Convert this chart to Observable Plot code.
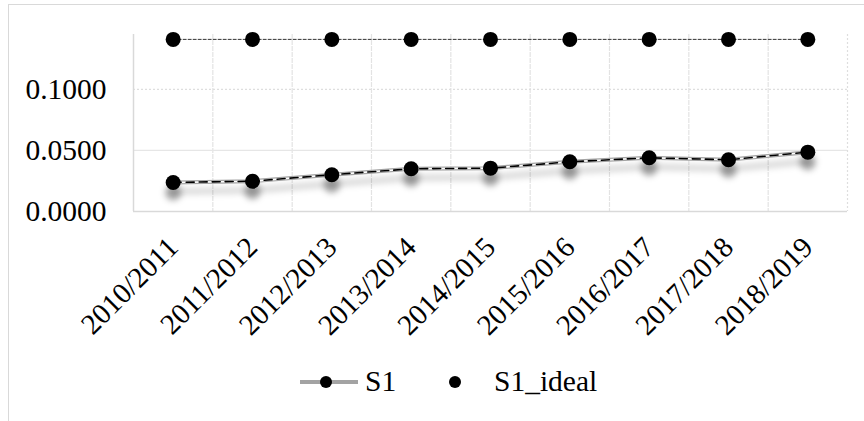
<!DOCTYPE html>
<html><head><meta charset="utf-8">
<script src="https://cdn.jsdelivr.net/npm/d3@7"></script>
<script src="https://cdn.jsdelivr.net/npm/@observablehq/plot@0.6"></script>
<style>
body{margin:0;background:#fff;}
#wrap{position:relative;width:864px;height:421px;overflow:hidden;font-family:"Liberation Serif",serif;color:#000;}
#frame{position:absolute;left:8px;top:4px;width:900px;height:500px;border-top:1.5px solid #d9d9d9;border-left:1.5px solid #d9d9d9;}
#chart{position:absolute;left:0;top:0;}
#legend{position:absolute;left:0;top:362px;width:864px;height:40px;}
.li{position:absolute;top:0;height:40px;display:flex;align-items:center;font-family:"Liberation Serif",serif;font-size:29.5px;line-height:1;}
</style></head>
<body>
<div id="wrap"><div id="frame"></div><div id="chart"></div><div id="legend"></div></div>
<script>
const years = ["2010/2011","2011/2012","2012/2013","2013/2014","2014/2015","2015/2016","2016/2017","2017/2018","2018/2019"];
const s1 = [0.0238,0.0248,0.0301,0.0350,0.0355,0.0407,0.0440,0.0424,0.0486];
const s1Ideal = [0.1410,0.1410,0.1410,0.1410,0.1410,0.1410,0.1410,0.1410,0.1410];
const yTicks = [0, 0.05, 0.10];
const seriesNames = ["S1","S1_ideal"];

const data = years.map((y,i)=>({i, year:y, s1:s1[i], ideal:s1Ideal[i]}));
const idx = d3.range(years.length);
const bounds = d3.range(years.length+1).map(k=>k-0.5);

const chart = Plot.plot({
  width:864, height:350,
  marginLeft:133, marginRight:17, marginTop:34, marginBottom:139,
  style:{fontFamily:'"Liberation Serif",serif', fontSize:"29px", background:"transparent", overflow:"visible", color:"#000"},
  x:{domain:[-0.5, years.length-0.5], axis:null, label:null},
  y:{domain:[0,0.145], axis:null, label:null},
  marks:[
    Plot.ruleX(bounds.slice(1,-1), {stroke:"#e3e3e3", strokeWidth:1.2, strokeDasharray:"5,1"}),
    Plot.ruleY([0.05], {stroke:"#e6e6e6", strokeWidth:1.2}),
    Plot.ruleY([0.10], {stroke:"#dedede", strokeWidth:1.2, strokeDasharray:"2,2"}),
    Plot.ruleX([bounds[bounds.length-1]], {stroke:"#dedede", strokeWidth:1.2, strokeDasharray:"2,2"}),
    Plot.ruleX([bounds[0]], {stroke:"#d9d9d9", strokeWidth:1.5}),
    Plot.ruleY([0], {stroke:"#d9d9d9", strokeWidth:1.5}),
    Plot.axisY(yTicks, {tickSize:0, tickPadding:27, tickFormat:d=>d.toFixed(4), fontSize:29.5, fill:"#000", label:null}),
    Plot.axisX(idx, {tickSize:0, tickPadding:14, tickRotate:-45, tickFormat:i=>years[i], fontSize:29, fill:"#000", dx:0, dy:17, label:null}),
    // shadows
    Plot.line(data, {x:"i", y:"s1", stroke:"#000", strokeOpacity:0.16, strokeWidth:6, dy:9, imageFilter:"blur(3px)"}),
    Plot.dot(data, {x:"i", y:"s1", r:8, fill:"#000", fillOpacity:0.35, dy:10, imageFilter:"blur(3px)"}),
    // ideal series
    Plot.line(data, {x:"i", y:"ideal", stroke:"#333", strokeWidth:1, strokeDasharray:"3,2"}),
    Plot.dot(data, {x:"i", y:"ideal", r:7.5, fill:"#000"}),
    // S1 series
    Plot.line(data, {x:"i", y:"s1", stroke:"#a3a3a3", strokeWidth:4}),
    Plot.line(data, {x:"i", y:"s1", stroke:"#fff", strokeWidth:1.6}),
    Plot.line(data, {x:"i", y:"s1", stroke:"#000", strokeWidth:1.6, strokeDasharray:"8,5"}),
    Plot.dot(data, {x:"i", y:"s1", r:7.5, fill:"#000"})
  ]
});
document.getElementById("chart").appendChild(chart);

// legend
const lg = document.getElementById("legend");
const items = [
  {name:seriesNames[0], left:300, type:"line"},
  {name:seriesNames[1], left:440, type:"dot"}
];
items.forEach(it=>{
  const d = document.createElement("div");
  d.className = "li";
  d.style.left = it.left + "px";
  const sw = it.type==="line"
    ? '<svg width="58" height="20"><line x1="0" x2="58" y1="10" y2="10" stroke="#a3a3a3" stroke-width="4"/><circle cx="26" cy="10" r="6" fill="#000"/></svg>'
    : '<svg width="30" height="20"><circle cx="15" cy="10" r="6" fill="#000"/></svg>';
  d.innerHTML = sw + '<span style="margin-left:' + (it.type==="line"?7:24) + 'px">' + it.name + '</span>';
  lg.appendChild(d);
});
</script>
</body></html>
